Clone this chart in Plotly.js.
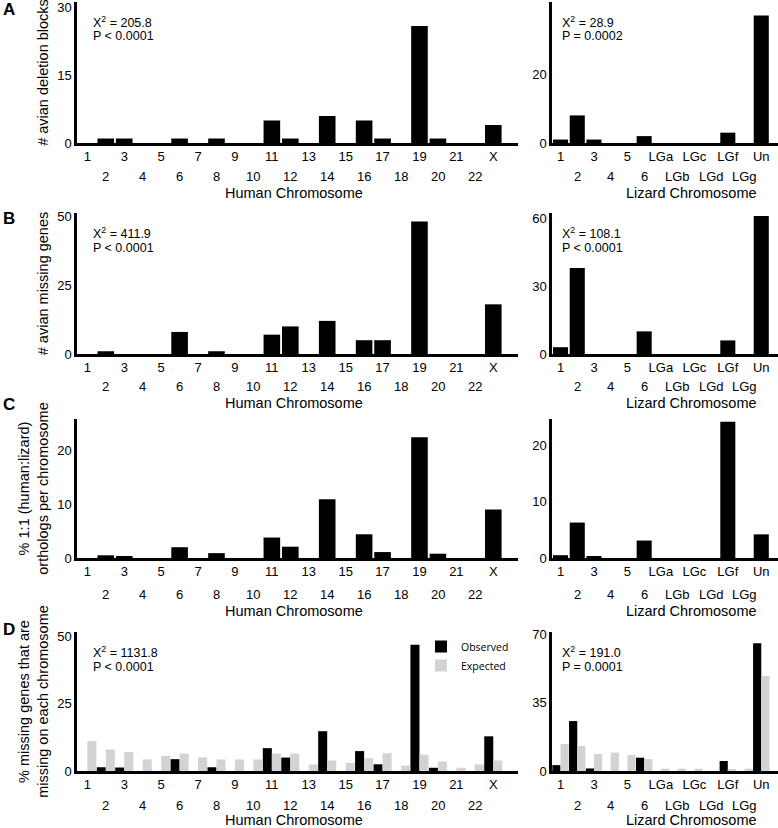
<!DOCTYPE html>
<html>
<head>
<meta charset="utf-8">
<script src="https://cdn.plot.ly/plotly-3.0.1.min.js"></script>
<style>
    body { margin: 0; background: #ffffff; }
    #chart { width: 778px; height: 828px; }
</style>
</head>
<body>
<div id="chart"></div>
<script>
// categories
var humanChrom = ["1", "2", "3", "4", "5", "6", "7", "8", "9", "10", "11", "12", "13", "14", "15", "16", "17", "18", "19", "20", "21", "22", "X"]
var lizardChrom = ["1", "2", "3", "4", "5", "6", "LGa", "LGb", "LGc", "LGd", "LGf", "LGg", "Un"]

// A: avian deletion blocks
var blocksHuman = [0, 1, 1, 0, 0, 1, 0, 1, 0, 0, 5, 1, 0, 6, 0, 5, 1, 0, 26, 1, 0, 0, 4]
var blocksLizard = [1, 8, 1, 0, 0, 2, 0, 0, 0, 0, 3, 0, 37]

// B: avian missing genes
var missingHuman = [0, 1, 0, 0, 0, 8, 0, 1, 0, 0, 7, 10, 0, 12, 0, 5, 5, 0, 48, 0, 0, 0, 18]
var missingLizard = [3, 38, 0, 0, 0, 10, 0, 0, 0, 0, 6, 0, 61]

// C: % 1:1 orthologs
var orthoHuman = [0, 0.5, 0.3, 0, 0, 2.0, 0, 0.9, 0, 0, 3.8, 2.1, 0, 10.9, 0, 4.4, 1.1, 0, 22.4, 0.8, 0, 0, 9.0]
var orthoLizard = [0.5, 6.3, 0.2, 0, 0, 3.1, 0, 0, 0, 0, 24.2, 0, 4.2]

// D: observed vs expected % missing genes
var observedHuman = [0, 1.4, 1.3, 0, 0, 4.4, 0, 1.4, 0, 0, 8.5, 5.0, 0, 14.8, 0, 7.4, 2.5, 0, 47, 1.2, 0, 0, 12.9]
var expectedHuman = [11.1, 8.0, 7.0, 4.3, 5.6, 6.5, 5.1, 4.3, 4.3, 4.3, 6.5, 6.5, 2.4, 3.9, 3.0, 4.8, 6.6, 2.0, 6.1, 3.5, 1.2, 2.5, 3.9]
var observedLizard = [3, 25.5, 1.3, 0, 0, 6.8, 0, 0, 0, 0, 5.1, 0, 65.3]
var expectedLizard = [13.8, 12.8, 8.7, 9.4, 8.2, 6.1, 1.2, 1.2, 1.2, 0, 0.9, 1.2, 48.5]

// axis ticks and texts
var yTickVals = [[0, 15, 30], [0, 20, 40], [0, 25, 50], [0, 30, 60], [0, 10, 20], [0, 10, 20], [0, 25, 50], [0, 35, 70]]
var yTitles = ["# avian deletion blocks", "", "# avian missing genes", "", "% 1:1 (human:lizard)<br>orthologs per chromosome", "", "% missing genes that are<br>missing on each chromosome", ""]
var panelLetters = ["A", "B", "C", "D"]
var statLines = [
    ["X<sup>2</sup> = 205.8", "P &lt; 0.0001"],
    ["X<sup>2</sup> = 28.9", "P = 0.0002"],
    ["X<sup>2</sup> = 411.9", "P &lt; 0.0001"],
    ["X<sup>2</sup> = 108.1", "P &lt; 0.0001"],
    null,
    null,
    ["X<sup>2</sup> = 1131.8", "P &lt; 0.0001"],
    ["X<sup>2</sup> = 191.0", "P = 0.0001"]
]

var W = 778, H = 828
var FONT = "Liberation Sans, Arial, Helvetica, sans-serif"

function fx(px) { return px / W }
function fy(px) { return 1 - px / H }

var rowsPx = [[2, 143], [213, 354], [419, 558], [632, 771]]
var colsPx = [[77, 518], [552, 778]]
var xRanges = [[-0.56, 23.34], [-0.51, 13]]
var yRanges = [[0, 31.3], [0, 40.9], [0, 51.1], [0, 62.3], [0, 25.8], [0, 24.7], [0, 51.7], [0, 71]]
var lowerRowGap = [33, 32, 36, 34]
var xTitleGap = [50, 49, 53, 48.5]

function singleBars(n, cats, vals) {
    return {
        type: "bar",
        x: cats,
        y: vals,
        xaxis: "x" + n,
        yaxis: "y" + n,
        width: 0.9,
        marker: { color: "#000000", line: { width: 0 } },
        showlegend: false,
        hoverinfo: "x+y"
    }
}

function pairBars(n, cats, vals, color, name, show) {
    return {
        type: "bar",
        x: cats,
        y: vals,
        xaxis: "x" + n,
        yaxis: "y" + n,
        name: name,
        marker: { color: color, line: { width: 0 } },
        showlegend: show,
        hoverinfo: "x+y"
    }
}

var data = [
    singleBars(1, humanChrom, blocksHuman),
    singleBars(2, lizardChrom, blocksLizard),
    singleBars(3, humanChrom, missingHuman),
    singleBars(4, lizardChrom, missingLizard),
    singleBars(5, humanChrom, orthoHuman),
    singleBars(6, lizardChrom, orthoLizard),
    pairBars(7, humanChrom, observedHuman, "#000000", "Observed", true),
    pairBars(7, humanChrom, expectedHuman, "#d3d3d3", "Expected", true),
    pairBars(8, lizardChrom, observedLizard, "#000000", "Observed", false),
    pairBars(8, lizardChrom, expectedLizard, "#d3d3d3", "Expected", false)
]

var layout = {
    width: W,
    height: H,
    margin: { t: 0, b: 0, l: 0, r: 0, pad: 0 },
    paper_bgcolor: "#ffffff",
    plot_bgcolor: "#ffffff",
    font: { family: FONT, size: 13, color: "#000000" },
    barmode: "group",
    bargap: 0.02,
    bargroupgap: 0,
    showlegend: true,
    legend: {
        x: fx(421),
        y: fy(632),
        xanchor: "left",
        yanchor: "top",
        font: { family: "Open Sans, sans-serif", size: 10.5, color: "#000000" },
        bgcolor: "rgba(0,0,0,0)",
        tracegroupgap: 0,
        itemwidth: 30
    },
    annotations: []
}

for (var i = 0; i < 8; i++) {
    var n = i + 1
    var row = Math.floor(i / 2)
    var col = i % 2
    var cats = col === 0 ? humanChrom : lizardChrom
    var upperCats = cats.filter((c, k) => k % 2 === 0)
    var bottom = rowsPx[row][1]

    // upper row of chromosome labels as ticks
    layout["xaxis" + n] = {
        type: "category",
        domain: [fx(colsPx[col][0]), fx(colsPx[col][1])],
        anchor: "y" + n,
        range: xRanges[col],
        tickmode: "array",
        tickvals: upperCats,
        ticktext: upperCats,
        tickangle: 0,
        ticks: "",
        showgrid: false,
        zeroline: false,
        showline: true,
        linecolor: "#000000",
        linewidth: 2.5,
        tickfont: { family: FONT, size: 13 },
        fixedrange: true
    }
    layout["yaxis" + n] = {
        domain: [fy(rowsPx[row][1]), fy(rowsPx[row][0])],
        anchor: "x" + n,
        range: yRanges[i],
        tickmode: "array",
        tickvals: yTickVals[i],
        ticks: "",
        showgrid: false,
        zeroline: false,
        showline: true,
        linecolor: "#000000",
        linewidth: 2.5,
        tickfont: { family: FONT, size: 13 },
        fixedrange: true
    }
    if (yTitles[i]) {
        layout["yaxis" + n].title = {
            text: yTitles[i],
            font: { family: FONT, size: 14.5 },
            standoff: 6
        }
    }
    // lower row of chromosome labels, placed by category index on the x axis
    cats.forEach((c, k) => {
        if (k % 2 === 0) return
        layout.annotations.push({
            text: c,
            xref: "x" + n, yref: "paper",
            x: k,
            y: fy(bottom + lowerRowGap[row]),
            xanchor: "center", yanchor: "middle",
            showarrow: false,
            font: { family: FONT, size: 13 }
        })
    })
    // x axis titles
    layout.annotations.push({
        text: col === 0 ? "Human Chromosome" : "Lizard Chromosome",
        xref: "paper", yref: "paper",
        x: col === 0 ? fx(294) : fx(691),
        y: fy(bottom + xTitleGap[row]),
        xanchor: "center", yanchor: "middle",
        showarrow: false,
        font: { family: FONT, size: 14.5 }
    })
    // chi-square stats
    if (statLines[i]) {
        var statX = col === 0 ? fx(91) : fx(560)
        var statTop = rowsPx[row][0]
        statLines[i].forEach((t, k) => {
            layout.annotations.push({
                text: t,
                xref: "paper", yref: "paper",
                x: statX, y: fy(statTop + 20 + k * 14.5),
                xanchor: "left", yanchor: "middle",
                showarrow: false,
                font: { family: FONT, size: 12.5 }
            })
        })
    }
}

// panel letters
var letterY = [9, 218, 405, 629]
panelLetters.forEach((letter, r) => {
    layout.annotations.push({
        text: "<b>" + letter + "</b>",
        xref: "paper", yref: "paper",
        x: fx(1), y: fy(letterY[r]),
        xanchor: "left", yanchor: "middle",
        showarrow: false,
        font: { family: FONT, size: 17 }
    })
})

Plotly.newPlot("chart", data, layout, { displayModeBar: false, responsive: false })
</script>
</body>
</html>
